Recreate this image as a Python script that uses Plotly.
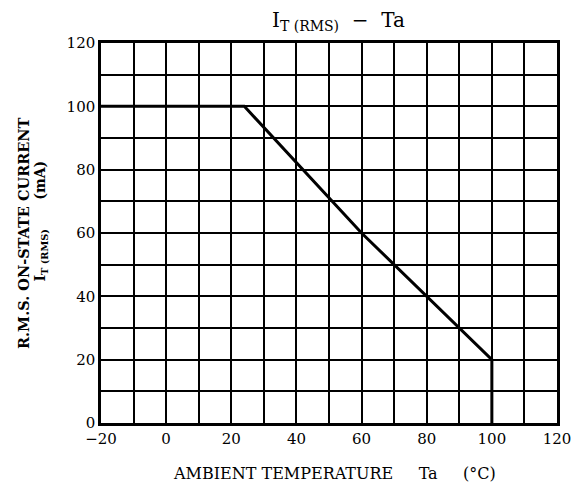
import plotly.graph_objects as go

# Data
ambient_temp = [-20, 24, 60, 100, 100]        # Ta (°C)
current_rms = [100, 100, 60, 20, 0]           # IT(RMS) (mA)

x_ticks = [-20, 0, 20, 40, 60, 80, 100, 120]
x_tick_labels = ["\u221220", "0", "20", "40", "60", "80", "100", "120"]
y_ticks = [0, 20, 40, 60, 80, 100, 120]

SERIF = "DejaVu Serif"
NB = "\u00a0"

fig = go.Figure()
fig.add_trace(go.Scatter(
    x=ambient_temp, y=current_rms, mode="lines",
    line=dict(color="black", width=3),
    showlegend=False, hoverinfo="skip",
))

grid = dict(showgrid=True, gridcolor="black", gridwidth=1.5)
fig.update_xaxes(
    range=[-20, 120], tickvals=x_ticks, ticktext=x_tick_labels,
    ticks="", zeroline=False, showline=True, mirror=True,
    linecolor="black", linewidth=2.5,
    tickfont=dict(family=SERIF, size=15, color="black"),
    minor=dict(tickvals=list(range(-10, 120, 20)), showgrid=True,
               gridcolor="black", gridwidth=1.5),
    **grid,
)
fig.update_yaxes(
    range=[0, 120], tickvals=y_ticks,
    ticks="", zeroline=False, showline=True, mirror=True,
    linecolor="black", linewidth=2.5,
    tickfont=dict(family=SERIF, size=15, color="black"),
    minor=dict(tickvals=list(range(10, 120, 20)), showgrid=True,
               gridcolor="black", gridwidth=1.5),
    **grid,
)

fig.update_layout(
    width=575, height=480,
    margin=dict(l=93, r=26, t=35, b=65),
    plot_bgcolor="white", paper_bgcolor="white",
    font=dict(family=SERIF, color="black"),
    annotations=[
        dict(text="I<sub>T (RMS)</sub>" + NB * 2 + "\u2212" + NB * 2 + "Ta",
             xref="paper", yref="paper",
             x=0.52, y=1.0, yshift=22, xanchor="center", yanchor="middle",
             showarrow=False, font=dict(family=SERIF, size=20, color="black")),
        dict(text="AMBIENT TEMPERATURE" + NB * 5 + "Ta" + NB * 5 + "(\u00b0C)",
             xref="paper", yref="paper",
             x=0.513, y=0, yshift=-50, xanchor="center", yanchor="middle",
             showarrow=False, font=dict(family=SERIF, size=16, color="black")),
        dict(text="<b>R.M.S. ON-STATE CURRENT</b>", xref="paper", yref="paper",
             x=0, xshift=-78, y=0.5, xanchor="center", yanchor="middle",
             textangle=-90, showarrow=False,
             font=dict(family=SERIF, size=14.5, color="black")),
        dict(text="<b>I<sub>T (RMS)</sub>" + NB * 6 + "(mA)</b>", xref="paper", yref="paper",
             x=0, xshift=-60, y=0.53, xanchor="center", yanchor="middle",
             textangle=-90, showarrow=False,
             font=dict(family=SERIF, size=14, color="black")),
    ],
)

fig.write_html("out.html")
